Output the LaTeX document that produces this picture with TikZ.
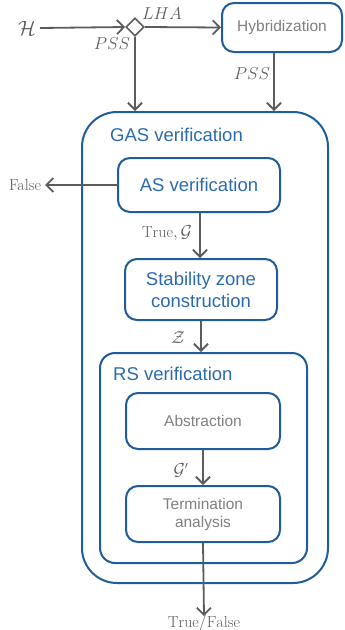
\documentclass[tikz,border=0pt]{standalone}
\usepackage{fontspec}
\newfontfamily\labsans{Liberation Sans}
\usetikzlibrary{shapes.geometric,arrows.meta}
\definecolor{boxblue}{HTML}{1F5C99}
\definecolor{textblue}{HTML}{2B6BAD}
\definecolor{textgrey}{HTML}{808080}
\definecolor{arrgrey}{HTML}{5C5C5C}
\tikzset{
  box/.style={draw=boxblue, line width=2pt, rounded corners=12pt, align=center},
  bluetext/.style={text=textblue, font=\labsans\fontsize{18.5}{22}\selectfont},
  greytext/.style={text=textgrey, font=\labsans\fontsize{15.5}{18}\selectfont},
  lab/.style={text=arrgrey, font=\fontsize{16}{19}\selectfont, inner sep=0pt},
  arr/.style={draw=arrgrey, line width=1.8pt, -{Straight Barb[length=7pt,width=14pt,line width=1.8pt]}},
}
\begin{document}
\begin{tikzpicture}[x=1pt,y=-1pt]
  \useasboundingbox (0,0) rectangle (345,630);

  % outer containers
  \node[box, rounded corners=35pt, minimum width=246pt, minimum height=471pt] (gas) at (205,347.5) {};
  \node[bluetext, anchor=west, inner sep=0pt] (gaslab) at (110,135) {GAS verification};
  \node[box, rounded corners=15pt, minimum width=207pt, minimum height=210pt] (rs) at (203.5,458) {};
  \node[bluetext, anchor=west, inner sep=0pt] (rslab) at (113,374) {RS verification};

  % input and hybridization stage
  \node[lab, font=\fontsize{20}{23}\selectfont] (H) at (27,28) {$\mathcal{H}$};
  \node[diamond, draw=arrgrey, line width=1.6pt, minimum size=18pt, inner sep=0pt] (d) at (135,27) {};
  \node[box, greytext, minimum width=120pt, minimum height=49pt] (hyb) at (282,27.5) {Hybridization};

  % inner stages
  \node[box, bluetext, minimum width=162pt, minimum height=54pt] (as) at (199,185) {AS verification};
  \node[box, bluetext, minimum width=152pt, minimum height=61pt] (stab) at (201,289.5) {Stability zone\\construction};
  \node[box, greytext, minimum width=154pt, minimum height=56pt] (abs) at (203,421) {Abstraction};
  \node[box, greytext, minimum width=154pt, minimum height=56pt] (term) at (203,514) {Termination\\analysis};

  % outputs
  \node[lab] (false) at (25,185) {False};
  \node[lab, anchor=north] (out) at (204,614) {$\mathrm{True}/\mathrm{False}$};

  % connectors
  \draw[arr] (H.east) ++(4,0) coordinate (hs) -- (d.west);
  \draw[arr] (d.east) -- (hyb.west);
  \draw[arr] (d.south) -- (d.south |- gas.north);
  \draw[arr] ([xshift=-8pt]hyb.south) -- ([xshift=-8pt]hyb.south |- gas.north);
  \draw[arr] (as.west) -- ([xshift=4pt]false.east);
  \draw[arr] ([xshift=1pt]as.south) -- ([xshift=1pt]as.south |- stab.north);
  \draw[arr] (stab.south) -- (stab.south |- rs.north);
  \draw[arr] (abs.south) -- (term.north);
  \draw[arr] (term.south) -- ([yshift=-2pt]out.north);

  % connector labels
  \node[lab] (llha) at (162,14) {$LHA$};
  \node[lab] (lpss1) at (112,44) {$PSS$};
  \node[lab] (lpss2) at (252,74) {$PSS$};
  \node[lab] (ltrue) at (167,233) {$\mathrm{True}, \mathcal{G}$};
  \node[lab] (lz) at (178,338) {$\mathcal{Z}$};
  \node[lab] (lg) at (181,470) {$\mathcal{G}'$};
\end{tikzpicture}
\end{document}
